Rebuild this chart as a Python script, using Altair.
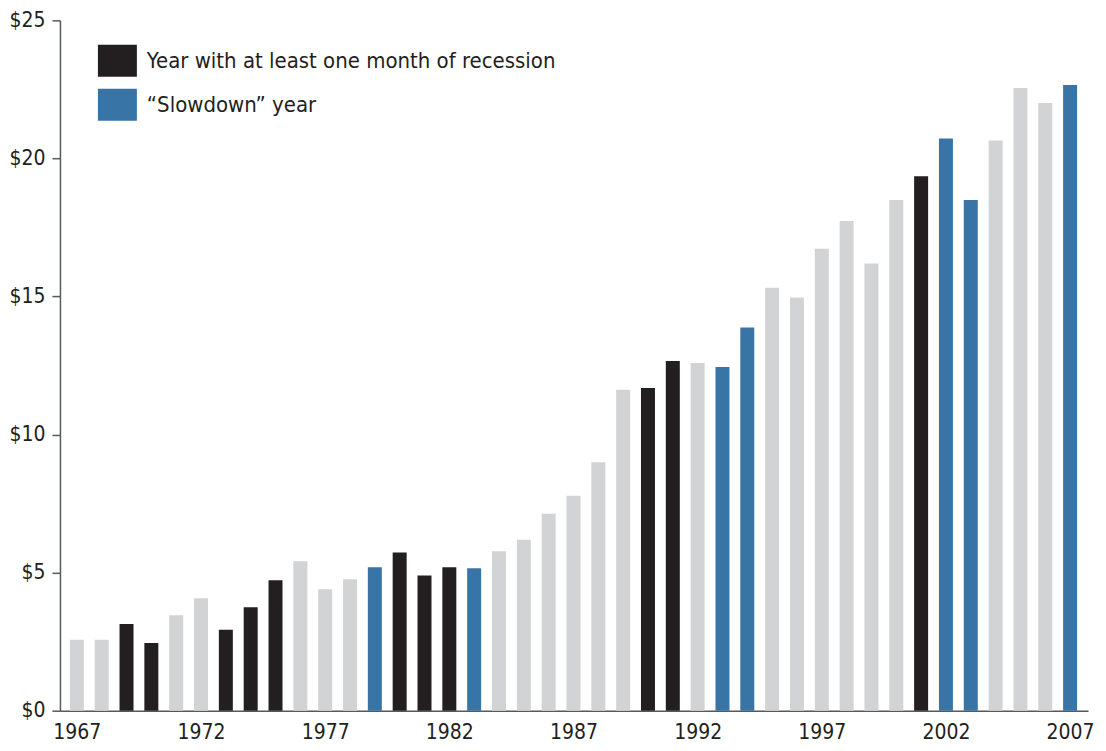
import altair as alt
import pandas as pd

years = list(range(1967, 2008))
values = [2.57, 2.57, 3.14, 2.45, 3.46, 4.07, 2.93, 3.75, 4.72, 5.41,
          4.40, 4.76, 5.19, 5.73, 4.90, 5.19, 5.16, 5.77, 6.19, 7.13,
          7.78, 9.00, 11.62, 11.69, 12.66, 12.59, 12.45, 13.88, 15.32, 14.96,
          16.73, 17.73, 16.19, 18.49, 19.35, 20.72, 18.49, 20.65, 22.55, 22.01,
          22.66]
kinds = ["o", "o", "r", "r", "o", "o", "r", "r", "r", "o",
         "o", "o", "s", "r", "r", "r", "s", "o", "o", "o",
         "o", "o", "o", "r", "r", "o", "s", "s", "o", "o",
         "o", "o", "o", "o", "r", "s", "s", "o", "o", "o",
         "s"]
x_ticks = [1967, 1972, 1977, 1982, 1987, 1992, 1997, 2002, 2007]
y_ticks = [0, 5, 10, 15, 20, 25]

REC = "Year with at least one month of recession"
SLOW = "\u201cSlowdown\u201d year"
OTHER = "Other year"
names = {"r": REC, "s": SLOW, "o": OTHER}

df = pd.DataFrame({"year": years, "value": values,
                   "kind": [names[k] for k in kinds]})

FONT = "'DejaVu Sans Condensed', 'Liberation Sans Narrow', sans-serif"
TXT = "#231f20"
AX = "#58595b"

chart = alt.Chart(df).mark_bar(size=14).encode(
    x=alt.X("year:Q",
            scale=alt.Scale(domain=[1966.52, 2007.52], nice=False, zero=False),
            axis=alt.Axis(values=x_ticks,
                          format="d", ticks=False, grid=False, title=None,
                          labelFlush=False, labelPadding=11, labelFontSize=21,
                          labelFont=FONT, labelColor=TXT,
                          domainColor=AX, domainWidth=1.5)),
    y=alt.Y("value:Q",
            scale=alt.Scale(domain=[0, 25], nice=False),
            axis=alt.Axis(values=y_ticks, labelExpr="'$' + datum.value",
                          grid=False, title=None, tickSize=8, tickColor=AX, tickWidth=1.5,
                          domainColor=AX, domainWidth=1.5, labelPadding=7,
                          labelFontSize=21, labelFont=FONT, labelColor=TXT)),
    color=alt.Color("kind:N",
                    scale=alt.Scale(domain=[REC, SLOW, OTHER],
                                    range=["#231f20", "#3874a5", "#d1d3d4"]),
                    legend=alt.Legend(values=[REC, SLOW], orient="none",
                                      legendX=38, legendY=21, title=None,
                                      symbolType="M-1,-0.82H1V0.82H-1Z",
                                      symbolSize=1521, symbolStrokeWidth=0,
                                      symbolOpacity=1, labelFontSize=22,
                                      labelFont=FONT, labelColor=TXT,
                                      labelOffset=10, rowPadding=8,
                                      labelLimit=600)),
).properties(
    width=1029, height=691,
    autosize=alt.AutoSizeParams(type="none"),
    padding={"left": 52, "top": 12, "right": 10, "bottom": 32},
).configure_view(stroke=None)

chart.save("out.html", embed_options={"renderer": "svg", "actions": False})
